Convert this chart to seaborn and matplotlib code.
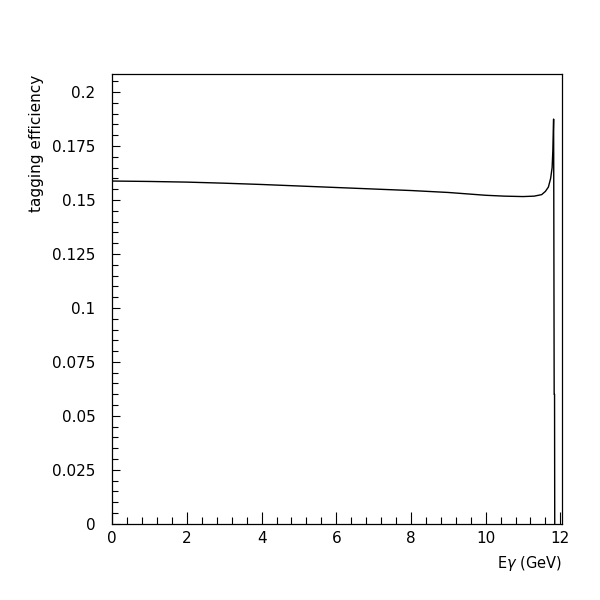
import pandas as pd
import matplotlib.pyplot as plt
import seaborn as sns
from matplotlib.ticker import MultipleLocator

# photon energy (GeV) and tagging efficiency
e_gamma = [0.0, 1.0, 2.0, 3.0, 4.0, 5.0, 6.0, 7.0, 8.0, 9.0, 10.0, 10.5,
           11.0, 11.3, 11.5, 11.6, 11.68, 11.74, 11.78, 11.8, 11.82,
           11.825, 11.835, 11.845, 11.85]
efficiency = [0.1588, 0.1586, 0.1583, 0.1578, 0.1572, 0.1565, 0.1558,
              0.1551, 0.1544, 0.1535, 0.1522, 0.1518, 0.1516, 0.1518,
              0.1525, 0.1540, 0.1560, 0.1600, 0.1650, 0.1730, 0.1875,
              0.1500, 0.0600, 0.0600, 0.0]

df = pd.DataFrame({"E": e_gamma, "eff": efficiency})

sns.set_style("ticks")
plt.rcParams["font.family"] = ["DejaVu Sans"]
plt.rcParams["mathtext.fontset"] = "dejavusans"
plt.rcParams["text.color"] = "black"
plt.rcParams["axes.labelcolor"] = "black"

fig = plt.figure(figsize=(6, 6), dpi=100)
ax = fig.add_axes([0.187, 0.127, 0.75, 0.749])

sns.lineplot(data=df, x="E", y="eff", ax=ax, color="black", linewidth=1.0,
             sort=False, estimator=None)

ax.set_xlim(0, 12.05)
ax.set_ylim(0, 0.2082)
ax.xaxis.set_minor_locator(MultipleLocator(0.4))
ax.yaxis.set_minor_locator(MultipleLocator(0.005))
ax.set_yticks([0, 0.025, 0.05, 0.075, 0.1, 0.125, 0.15, 0.175, 0.2])
ax.set_yticklabels(["0", "0.025", "0.05", "0.075", "0.1", "0.125", "0.15", "0.175", "0.2"])
ax.set_xticks([0, 2, 4, 6, 8, 10, 12])
ax.set_xticklabels(["0", "2", "4", "6", "8", "10", "12"])

ax.tick_params(axis="x", which="major", direction="in", length=8.6, width=0.8,
               labelsize=11, pad=5, color="black", labelcolor="black")
ax.tick_params(axis="x", which="minor", direction="in", length=4.7, width=0.8, color="black")
ax.tick_params(axis="y", which="major", direction="in", length=6, width=0.8,
               labelsize=11, pad=12, color="black", labelcolor="black")
ax.tick_params(axis="y", which="minor", direction="in", length=4.3, width=0.8, color="black")

for s in ax.spines.values():
    s.set_visible(True)
    s.set_color("black")
    s.set_linewidth(0.9)

ax.set_xlabel("E$\\gamma$ (GeV)", fontsize=10.5, loc="right", labelpad=6)
ax.set_ylabel("tagging efficiency", fontsize=11, loc="top", labelpad=6)

fig.savefig("out.png", dpi=100, facecolor="white")
